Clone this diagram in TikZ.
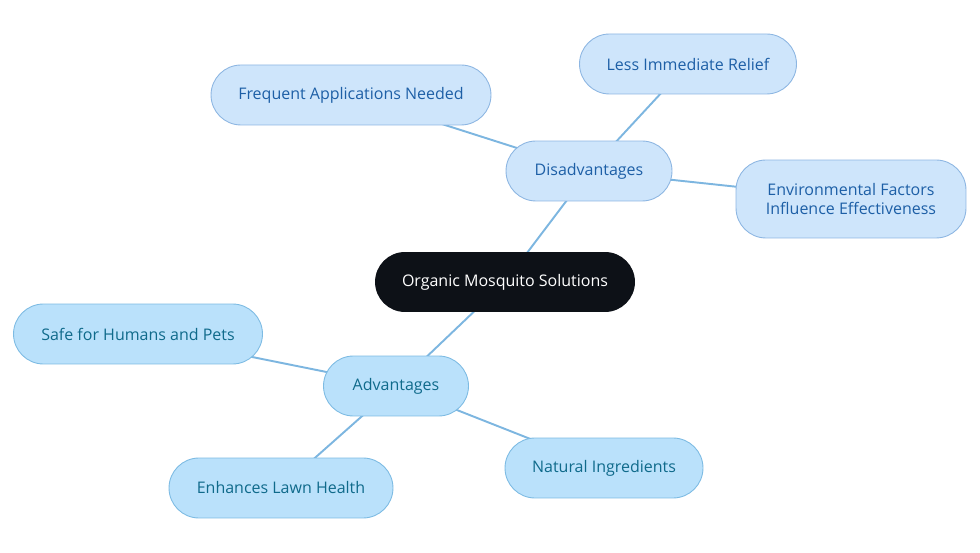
\documentclass[tikz,border=0pt]{standalone}
\usepackage{fontspec}
\setmainfont{Open Sans}
\usetikzlibrary{backgrounds}
\definecolor{rootfill}{HTML}{0D1117}
\definecolor{disfill}{HTML}{CEE5FB}
\definecolor{disline}{HTML}{8DB6E2}
\definecolor{distext}{HTML}{1D5FA6}
\definecolor{advfill}{HTML}{BAE1FB}
\definecolor{advline}{HTML}{7DBBE3}
\definecolor{advtext}{HTML}{0F6A8B}
\definecolor{linkcol}{HTML}{7DB6E0}
\tikzset{
  pill/.style={rounded corners=0.6cm, minimum height=1.2cm, inner sep=0pt,
    font=\fontsize{9.1}{10.3}\selectfont, align=center, line width=0.5pt},
  rootbox/.style={pill, fill=rootfill, text=white},
  disbox/.style={pill, fill=disfill, draw=disline, text=distext},
  advbox/.style={pill, fill=advfill, draw=advline, text=advtext},
  link/.style={linkcol, line width=1.1pt}
}
\begin{document}
\begin{tikzpicture}[x=0.02cm, y=-0.02cm]
  \useasboundingbox (0,0) rectangle (980,553);
  % mitte
  \node[rootbox, minimum width=5.2cm] (root) at (505,282) {Organic Mosquito Solutions};
  % nachteile
  \node[disbox, minimum width=3.32cm] (dis) at (589,171) {Disadvantages};
  \node[disbox, minimum width=4.34cm] (relief) at (688,64) {Less Immediate Relief};
  \node[disbox, minimum width=5.6cm] (freq) at (351,95) {Frequent Applications Needed};
  \node[disbox, minimum width=4.6cm, minimum height=1.56cm] (env) at (851,199)
    {Environmental Factors\\Influence Effectiveness};
  % vorteile
  \node[advbox, minimum width=2.9cm] (adv) at (396,386) {Advantages};
  \node[advbox, minimum width=4.98cm] (safe) at (138,334) {Safe for Humans and Pets};
  \node[advbox, minimum width=3.96cm] (nat) at (604,468) {Natural Ingredients};
  \node[advbox, minimum width=4.48cm] (lawn) at (281,488) {Enhances Lawn Health};
  % verbindungen
  \begin{pgfonlayer}{background}
    \draw[link] (root.center) -- (dis.center);
    \draw[link] (root.center) -- (adv.center);
    \draw[link] (dis.center) -- (relief.center);
    \draw[link] (dis.center) -- (freq.center);
    \draw[link] (dis.center) -- (env.center);
    \draw[link] (adv.center) -- (safe.center);
    \draw[link] (adv.center) -- (nat.center);
    \draw[link] (adv.center) -- (lawn.center);
  \end{pgfonlayer}
\end{tikzpicture}
\end{document}
